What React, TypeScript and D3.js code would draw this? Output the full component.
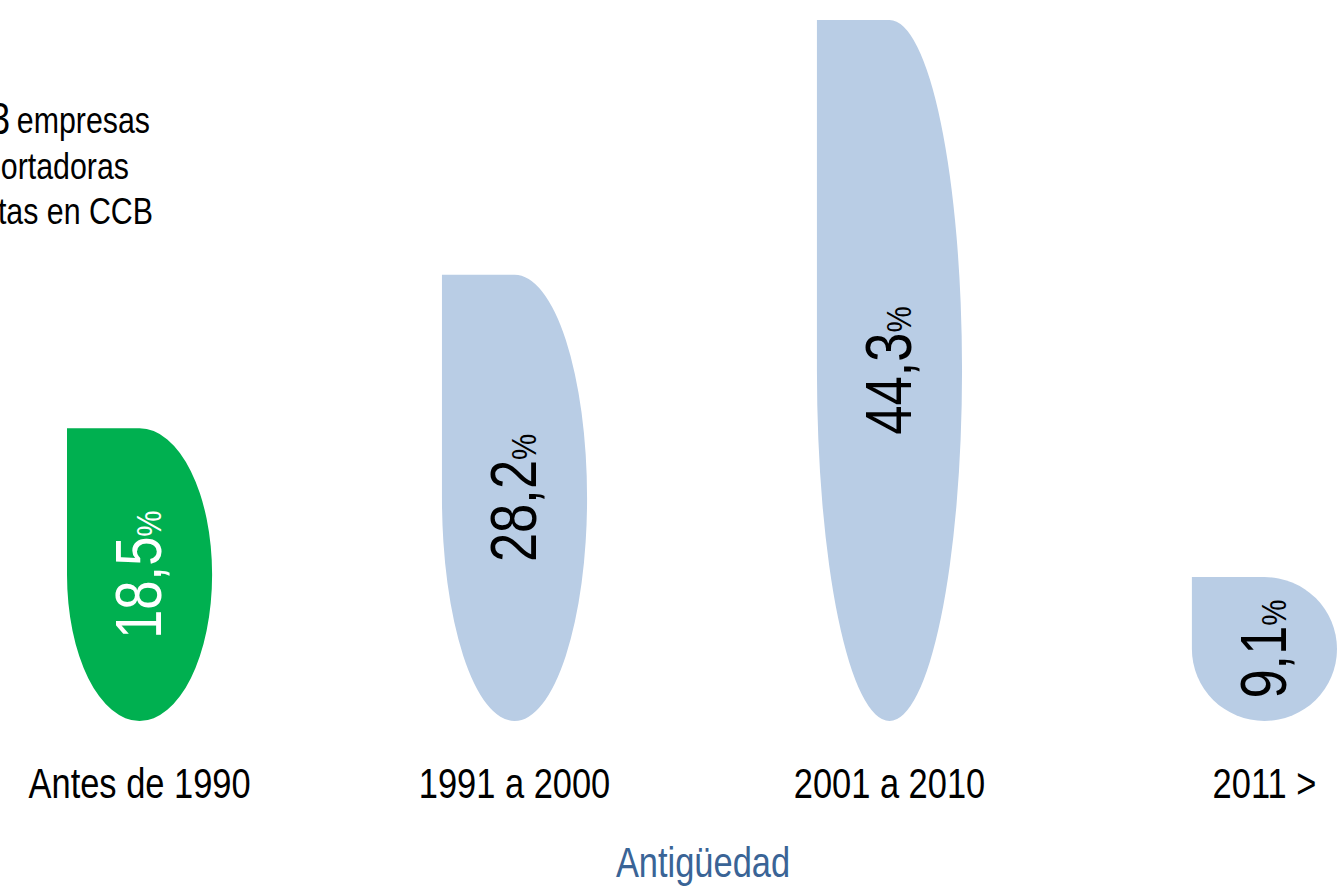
import React from 'react';
import * as d3 from 'd3';

const categories = ['Antes de 1990', '1991 a 2000', '2001 a 2010', '2011 >'];
const shares = [18.5, 28.2, 44.3, 9.1];
const highlight = ['Antes de 1990'];
const noteLines = ['empresas', 'exportadoras', 'inscritas en CCB'];
const noteCount = '3';
const axisTitle = 'Antigüedad';

const W = 1344;
const H = 886;
const FONT = '"Liberation Sans", Arial, sans-serif';
// no narrow face installed, so squeeze Liberation Sans horizontally
const SQUEEZE = 0.82;
const GREEN = '#00b050';
const BLUE = '#b9cde5';

function dropPath(x0: number, w: number, y0: number, y1: number) {
  const rx = w / 2;
  const ry = (y1 - y0) / 2;
  const cx = x0 + rx;
  const my = y0 + ry;
  return `M${x0},${y0}H${cx}A${rx},${ry} 0 0 1 ${x0 + w},${my}` +
    `A${rx},${ry} 0 0 1 ${cx},${y1}A${rx},${ry} 0 0 1 ${x0},${my}Z`;
}

function Narrow({ x, y, size, anchor = 'middle', rotate = 0, fill = '#000', dy, children }: any) {
  return (
    <text
      transform={`translate(${x},${y}) rotate(${rotate}) scale(${SQUEEZE},1)`}
      textAnchor={anchor}
      dy={dy}
      fontFamily={FONT}
      fontSize={size}
      fill={fill}
    >
      {children}
    </text>
  );
}

export default function App() {
  const x = d3.scaleBand<string>()
    .domain(categories)
    .range([67, 1337])
    .paddingInner(0.613)
    .paddingOuter(0);
  const y = d3.scaleLinear()
    .domain([0, d3.max(shares) ?? 1])
    .range([721, 20]);

  return (
    <svg
      width={W}
      height={H}
      viewBox={`0 0 ${W} ${H}`}
      style={{ position: 'absolute', left: 0, top: 0, background: '#fff' }}
    >
      <Narrow x={10} y={134} size={44} anchor="end">{noteCount}</Narrow>
      <Narrow x={150} y={133} size={37} anchor="end">{noteLines[0]}</Narrow>
      <Narrow x={129} y={179} size={37} anchor="end">{noteLines[1]}</Narrow>
      <Narrow x={153} y={224} size={37} anchor="end">{noteLines[2]}</Narrow>

      {categories.map((cat, i) => {
        const x0 = x(cat) ?? 0;
        const bw = x.bandwidth();
        const top = y(shares[i]);
        const bottom = y(0);
        const cx = x0 + bw / 2;
        const my = (top + bottom) / 2;
        const hl = highlight.includes(cat);
        const [whole, dec] = shares[i].toFixed(1).split('.');
        return (
          <g key={cat}>
            <path d={dropPath(x0, bw, top, bottom)} fill={hl ? GREEN : BLUE} />
            <Narrow x={cx} y={my} rotate={-90} size={64} dy="0.34em" fill={hl ? '#fff' : '#000'}>
              {`${whole},${dec}`}
              <tspan fontSize={36}>%</tspan>
            </Narrow>
            <Narrow x={cx} y={798} size={42}>{cat}</Narrow>
          </g>
        );
      })}

      <Narrow x={703} y={877} size={42} fill="#3a6496">{axisTitle}</Narrow>
    </svg>
  );
}
